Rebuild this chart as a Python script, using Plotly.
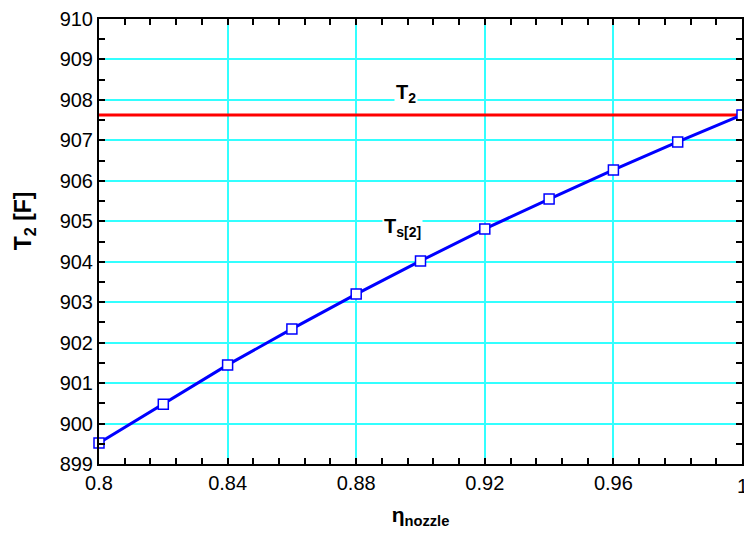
import plotly.graph_objects as go

eta = [0.80, 0.82, 0.84, 0.86, 0.88, 0.90, 0.92, 0.94, 0.96, 0.98, 1.00]
ts2 = [899.52, 900.48, 901.45, 902.34, 903.20, 904.02, 904.81, 905.55, 906.27, 906.96, 907.63]
t2_value = 907.63
x_ticks = [0.80, 0.84, 0.88, 0.92, 0.96, 1.00]
x_ticklabels = ["0.8", "0.84", "0.88", "0.92", "0.96", "1"]
y_ticks = list(range(899, 911))

font = "Liberation Sans, Arial, sans-serif"

fig = go.Figure()
fig.add_trace(go.Scatter(x=[0.8, 1.0], y=[t2_value, t2_value], mode="lines",
                         line=dict(color="#ff0000", width=3), showlegend=False,
                         hoverinfo="skip"))
fig.add_trace(go.Scatter(x=eta, y=ts2, mode="lines+markers",
                         line=dict(color="#0000ff", width=3),
                         marker=dict(symbol="square", size=10, color="white",
                                     line=dict(color="#0000ff", width=1.5)),
                         showlegend=False, cliponaxis=False))

fig.add_annotation(x=0.9, y=908.0, text="<b>T<sub>2</sub></b>", showarrow=False,
                   bgcolor="white", font=dict(family=font, size=20, color="black"),
                   xanchor="center", yanchor="middle", xshift=-15, yshift=6)
fig.add_annotation(x=0.892, y=905.0, text="<b>T<sub>s[2]</sub></b>", showarrow=False,
                   bgcolor="white", font=dict(family=font, size=20, color="black"),
                   xanchor="center", yanchor="middle", xshift=8, yshift=-6)
# y-axis title (placed as in the reference, slightly above the plot centre)
fig.add_annotation(xref="paper", x=0, y=905.0, text="<b>T<sub>2</sub> [F]</b>",
                   showarrow=False, textangle=-90, xanchor="center", yanchor="middle",
                   xshift=-75, font=dict(family=font, size=23, color="black"))
# last x tick label, cut at the right edge as in the reference
fig.add_annotation(x=x_ticks[-1], yref="paper", y=0, text=x_ticklabels[-1],
                   showarrow=False, xanchor="center", yanchor="top", yshift=-9,
                   font=dict(family=font, size=20, color="black"))

axis_common = dict(showline=True, linecolor="black", linewidth=2, mirror="ticks",
                   ticks="inside", ticklen=6, tickwidth=1.5, tickcolor="black",
                   showgrid=True, gridcolor="#33ffff", gridwidth=1.5, zeroline=False,
                   tickfont=dict(family=font, size=20, color="black"))

fig.update_xaxes(range=[0.8, 1.0], tickvals=x_ticks[:-1], ticktext=x_ticklabels[:-1],
                 minor=dict(dtick=0.008, tick0=0.8, ticks="inside", ticklen=6,
                            tickwidth=1.5, tickcolor="black", showgrid=False),
                 title=dict(text="<b>η<sub>nozzle</sub></b>",
                            font=dict(family=font, size=21, color="black"), standoff=14),
                 **axis_common)
fig.update_yaxes(range=[899, 910], tickvals=y_ticks,
                 minor=dict(dtick=0.5, tick0=899, ticks="inside", ticklen=6,
                            tickwidth=1.5, tickcolor="black", showgrid=False),
                 **axis_common)

fig.update_layout(width=744, height=536, plot_bgcolor="white", paper_bgcolor="white",
                  margin=dict(l=99, r=0, t=19, b=72))

fig.write_html("out.html", config={"displayModeBar": False},
               post_script="document.body.style.margin='0';document.body.style.overflow='hidden';")
